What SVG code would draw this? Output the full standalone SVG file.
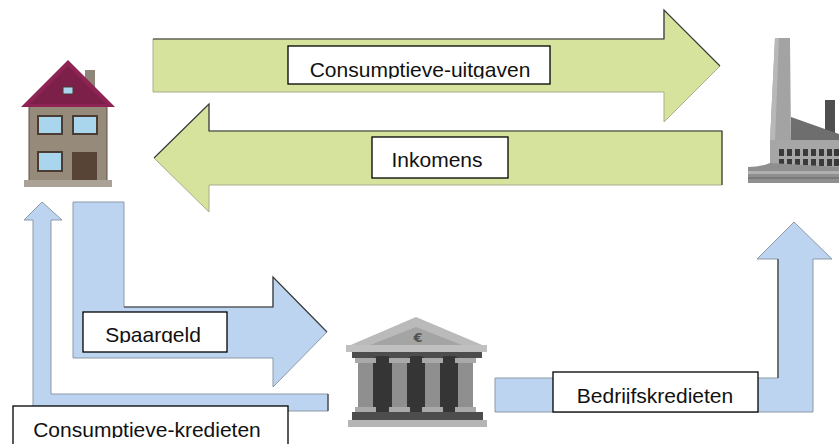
<svg xmlns="http://www.w3.org/2000/svg" width="839" height="444" viewBox="0 0 839 444">
<style>
.green{fill:#d6e39c;stroke:#a9ad8c;stroke-width:1}
.blue{fill:#bcd4ef;stroke:#8d99a8;stroke-width:1}
.edge{fill:none;stroke:#3d3d3d;stroke-width:1.2}
.box{fill:#ffffff;stroke:#000000;stroke-width:1.3}
.lbl{font-family:"Liberation Sans",Arial,sans-serif;font-size:21px;fill:#111111;text-anchor:middle}
</style>
<defs>
<clipPath id="c1"><rect x="288" y="46" width="262" height="32.5"/></clipPath>
<clipPath id="c2"><rect x="83" y="312" width="144" height="31"/></clipPath>
<clipPath id="c3"><rect x="553" y="372" width="205" height="32"/></clipPath>
<clipPath id="c4"><rect x="13" y="406" width="275" height="32"/></clipPath>
</defs>
<rect width="839" height="444" fill="#ffffff"/>

<g id="connectors">
  <g id="flow-consumptieve-uitgaven">
    <polygon class="green" points="153,39 664,39 664,10 720,66 664,122 664,92 153,92"/>
    <polyline class="edge" points="153,39 664,39 664,10 720,66"/>
  </g>
  <g id="flow-inkomens">
    <polygon class="green" points="722,131 209,131 209,104 154,158 209,212 209,185 722,185"/>
    <polyline class="edge" points="722,185 722,131 209,131 209,104 154,158"/>
  </g>
  <g id="flow-spaargeld">
    <polygon class="blue" points="73,202 124,202 124,307 273,307 273,277 327,332 273,387 273,358 73,358"/>
    <polyline class="edge" points="124,307 273,307 273,277 327,332"/>
  </g>
  <g id="flow-consumptieve-kredieten">
    <polygon class="blue" points="42,202 62,220 51,220 51,394 328,394 328,411 33,411 33,220 24,220"/>
    <polyline class="edge" points="328,394 328,411"/>
  </g>
  <g id="flow-bedrijfskredieten">
    <polygon class="blue" points="495,378 778,378 778,259 757,259 794,222 832,259 813,259 813,412 495,412"/>
    <polyline class="edge" points="778,378 778,259"/>
  </g>
</g>

<g id="house">
  <rect x="85" y="70" width="10" height="18" fill="#8f8679"/>
  <rect x="29" y="105" width="78" height="76" fill="#968a7b" stroke="#5e5046" stroke-width="1"/>
  <polygon points="68,60 115,107 21,107" fill="#8e2453"/>
  <polygon points="68,66 106,104 30,104" fill="#7c1f49"/>
  <rect x="63" y="87" width="10" height="7" fill="#a9d6ec" stroke="#4a3c33" stroke-width="1"/>
  <rect x="38" y="116" width="24" height="18" fill="#a9d6ec" stroke="#4a3c33" stroke-width="2"/>
  <rect x="73" y="116" width="24" height="18" fill="#a9d6ec" stroke="#4a3c33" stroke-width="2"/>
  <rect x="38" y="152" width="24" height="19" fill="#a9d6ec" stroke="#4a3c33" stroke-width="2"/>
  <rect x="72" y="152" width="25" height="29" fill="#574436"/>
  <rect x="24" y="180" width="88" height="7" fill="#aaa297"/>
</g>

<g id="factory">
  <polygon points="775,38 790,38 791,141 770,141" fill="#a3a3a3"/>
  <polygon points="775,38 779,38 775,141 770,141" fill="#b8b8b8"/>
  <rect x="825" y="100" width="10" height="35" fill="#4f4f4f"/>
  <polygon points="791,117 839,134 839,141 791,141" fill="#6e6e6e"/>
  <rect x="770" y="140" width="69" height="27" fill="#a6a6a6"/>
  <g fill="#3a3a3a">
    <rect x="779" y="149" width="5" height="7"/><rect x="787" y="149" width="5" height="7"/><rect x="795" y="149" width="5" height="7"/><rect x="803" y="149" width="5" height="7"/><rect x="811" y="149" width="5" height="7"/><rect x="819" y="149" width="5" height="7"/><rect x="827" y="149" width="5" height="7"/><rect x="834" y="149" width="5" height="7"/>
    <rect x="779" y="159" width="5" height="7"/><rect x="787" y="159" width="5" height="7"/><rect x="795" y="159" width="5" height="7"/><rect x="803" y="159" width="5" height="7"/><rect x="811" y="159" width="5" height="7"/><rect x="819" y="159" width="5" height="7"/><rect x="827" y="159" width="5" height="7"/><rect x="834" y="159" width="5" height="7"/>
  </g>
  <path d="M770,163 Q760,167 748,167 L748,183 L839,183 L839,167 Z" fill="#8f8f8f"/>
  <rect x="748" y="171" width="91" height="3" fill="#b0b0b0"/>
  <rect x="748" y="177" width="91" height="2" fill="#7a7a7a"/>
</g>

<g id="bank">
  <polygon points="416,317 487,347 346,347" fill="#bababa"/>
  <polygon points="416,327 462,345 370,345" fill="#a4a4a4"/>
  <text x="418" y="342" font-family="'DejaVu Sans',sans-serif" font-size="13" font-weight="bold" fill="#505050" text-anchor="middle">€</text>
  <rect x="346" y="345" width="141" height="7" fill="#c0c0c0"/>
  <rect x="352" y="352" width="130" height="6" fill="#4d4d4d"/>
  <g fill="#353535">
    <rect x="370" y="356" width="25" height="60" rx="9" ry="14"/>
    <rect x="404" y="356" width="25" height="60" rx="9" ry="14"/>
    <rect x="437" y="356" width="25" height="60" rx="9" ry="14"/>
  </g>
  <g fill="#8f8f8f">
    <rect x="358" y="362" width="15" height="46"/>
    <rect x="392" y="362" width="15" height="46"/>
    <rect x="425" y="362" width="15" height="46"/>
    <rect x="458" y="362" width="15" height="46"/>
  </g>
  <g fill="#a9a9a9">
    <rect x="355" y="358" width="21" height="5"/>
    <rect x="389" y="358" width="21" height="5"/>
    <rect x="422" y="358" width="21" height="5"/>
    <rect x="455" y="358" width="21" height="5"/>
    <rect x="355" y="407" width="21" height="5"/>
    <rect x="389" y="407" width="21" height="5"/>
    <rect x="422" y="407" width="21" height="5"/>
    <rect x="455" y="407" width="21" height="5"/>
  </g>
  <rect x="352" y="412" width="131" height="8" fill="#4d4d4d"/>
  <rect x="348" y="420" width="139" height="7" fill="#b5b5b5"/>
</g>

<g id="label-consumptieve-uitgaven">
  <rect class="box" x="288" y="46" width="262" height="38"/>
  <text class="lbl" x="420" y="77" clip-path="url(#c1)">Consumptieve-uitgaven</text>
</g>
<g id="label-inkomens">
  <rect class="box" x="372" y="137" width="136" height="41"/>
  <text class="lbl" x="437" y="167">Inkomens</text>
</g>
<g id="label-spaargeld">
  <rect class="box" x="83" y="312" width="144" height="40"/>
  <text class="lbl" x="153" y="342" clip-path="url(#c2)">Spaargeld</text>
</g>
<g id="label-bedrijfskredieten">
  <rect class="box" x="553" y="372" width="205" height="40"/>
  <text class="lbl" x="655" y="403" clip-path="url(#c3)">Bedrijfskredieten</text>
</g>
<g id="label-consumptieve-kredieten">
  <rect class="box" x="13" y="406" width="275" height="50"/>
  <text class="lbl" x="147" y="437" clip-path="url(#c4)">Consumptieve-kredieten</text>
</g>
</svg>
